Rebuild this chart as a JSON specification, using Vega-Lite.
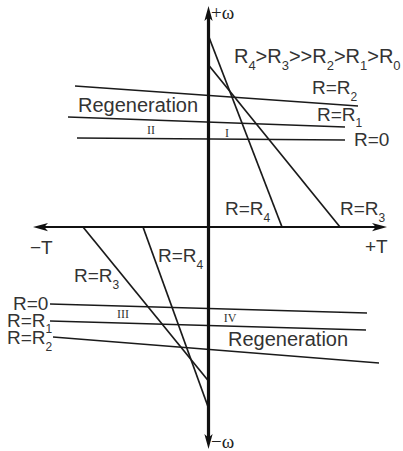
{
  "$schema": "https://vega.github.io/schema/vega-lite/v6.json",
  "width": 403,
  "height": 451,
  "padding": 0,
  "autosize": {"type": "none"},
  "background": "white",
  "config": {"view": {"stroke": null}},
  "datasets": {
    "characteristics": [
      {"curve": "R=R2 (I/II)", "x": -133.5, "y": 141, "x2": 149.5, "y2": 121},
      {"curve": "R=R1 (I/II)", "x": -140.5, "y": 110, "x2": 136.5, "y2": 100},
      {"curve": "R=0 (I/II)", "x": -131.5, "y": 89, "x2": 136.5, "y2": 87},
      {"curve": "R=R4 (I)", "x": 0, "y": 191, "x2": 73.5, "y2": 0},
      {"curve": "R=R3 (I)", "x": 0, "y": 162, "x2": 131.5, "y2": 0},
      {"curve": "R=R3 (III)", "x": -125.5, "y": 0, "x2": 0, "y2": -154},
      {"curve": "R=R4 (III)", "x": -65.5, "y": 0, "x2": 0, "y2": -181},
      {"curve": "R=0 (III/IV)", "x": -158.5, "y": -77, "x2": 158.5, "y2": -86},
      {"curve": "R=R1 (III/IV)", "x": -158.5, "y": -94, "x2": 157.5, "y2": -103},
      {"curve": "R=R2 (III/IV)", "x": -155.5, "y": -110, "x2": 170.5, "y2": -136}
    ],
    "axes": [
      {"axis": "T", "x": -167.5, "y": 0, "x2": 170.5, "y2": 0},
      {"axis": "omega", "x": 0, "y": 213, "x2": 0, "y2": -214}
    ],
    "arrowheads": [
      {"end": "+ω", "x": 0, "y": 221},
      {"end": "+T", "x": 178.5, "y": 0},
      {"end": "−ω", "x": 0, "y": -222},
      {"end": "−T", "x": -175.5, "y": 0}
    ],
    "labels": [
      {"kind": "head", "text": "R", "x": 25.5, "y": 164},
      {"kind": "headsub", "text": "4", "x": 39.9, "y": 157},
      {"kind": "head", "text": ">R", "x": 47.1, "y": 164},
      {"kind": "headsub", "text": "3", "x": 73.2, "y": 157},
      {"kind": "head", "text": ">>R", "x": 80.4, "y": 164},
      {"kind": "headsub", "text": "2", "x": 118.2, "y": 157},
      {"kind": "head", "text": ">R", "x": 125.4, "y": 164},
      {"kind": "headsub", "text": "1", "x": 151.5, "y": 157},
      {"kind": "head", "text": ">R", "x": 158.7, "y": 164},
      {"kind": "headsub", "text": "0", "x": 184.8, "y": 157},
      {"kind": "lbl", "text": "R=R", "x": 103.5, "y": 133},
      {"kind": "sub", "text": "2", "x": 142, "y": 126},
      {"kind": "lbl", "text": "R=R", "x": 108.5, "y": 106},
      {"kind": "sub", "text": "1", "x": 147, "y": 100},
      {"kind": "lbl", "text": "R=0", "x": 145.5, "y": 81},
      {"kind": "lbl", "text": "R=R", "x": 16.5, "y": 12},
      {"kind": "sub", "text": "4", "x": 55, "y": 5},
      {"kind": "lbl", "text": "R=R", "x": 131.5, "y": 12},
      {"kind": "sub", "text": "3", "x": 170, "y": 5},
      {"kind": "lbl", "text": "+T", "x": 156.5, "y": -26},
      {"kind": "lbl", "text": "−T", "x": -178.5, "y": -27},
      {"kind": "lbl", "text": "R=R", "x": -50.5, "y": -35},
      {"kind": "sub", "text": "4", "x": -12, "y": -42},
      {"kind": "lbl", "text": "R=R", "x": -134.5, "y": -55},
      {"kind": "sub", "text": "3", "x": -96, "y": -62},
      {"kind": "lbl", "text": "R=0", "x": -195.5, "y": -83},
      {"kind": "lbl", "text": "R=R", "x": -201.5, "y": -100},
      {"kind": "sub", "text": "1", "x": -163, "y": -106},
      {"kind": "lbl", "text": "R=R", "x": -201.5, "y": -117},
      {"kind": "sub", "text": "2", "x": -163, "y": -124},
      {"kind": "regen", "text": "Regeneration", "x": -130.5, "y": 115},
      {"kind": "regen", "text": "Regeneration", "x": 19.5, "y": -119},
      {"kind": "quad", "text": "I", "x": 18.5, "y": 90},
      {"kind": "quad", "text": "II", "x": -57.5, "y": 93},
      {"kind": "quad", "text": "III", "x": -85.5, "y": -91},
      {"kind": "quad", "text": "IV", "x": 21.5, "y": -95},
      {"kind": "pole", "text": "+ω", "x": 2.5, "y": 208},
      {"kind": "pole", "text": "−ω", "x": 2.5, "y": -221}
    ]
  },
  "encoding": {
    "x": {"field": "x", "type": "quantitative", "axis": null,
          "scale": {"domain": [-208.5, 194.5], "nice": false, "zero": false}},
    "y": {"field": "y", "type": "quantitative", "axis": null,
          "scale": {"domain": [-224, 227], "nice": false, "zero": false}}
  },
  "layer": [
    {
      "data": {"name": "characteristics"},
      "mark": {"type": "rule", "stroke": "#1a1a1a", "strokeWidth": 1.7},
      "encoding": {"x2": {"field": "x2"}, "y2": {"field": "y2"}}
    },
    {
      "data": {"name": "axes"},
      "transform": [{"filter": "datum.axis === 'T'"}],
      "mark": {"type": "rule", "stroke": "#111111", "strokeWidth": 2.2, "strokeCap": "butt"},
      "encoding": {"x2": {"field": "x2"}, "y2": {"field": "y2"}}
    },
    {
      "data": {"name": "axes"},
      "transform": [{"filter": "datum.axis === 'omega'"}],
      "mark": {"type": "rule", "stroke": "#111111", "strokeWidth": 3.2, "strokeCap": "butt"},
      "encoding": {"x2": {"field": "x2"}, "y2": {"field": "y2"}}
    },
    {
      "data": {"name": "arrowheads"},
      "transform": [{"filter": "datum.end === '+ω'"}],
      "mark": {"type": "point", "shape": "M0,0 L-0.55,2 L0,1.5 L0.55,2 Z", "filled": true,
               "fill": "#111111", "strokeWidth": 0, "size": 225, "opacity": 1, "angle": 0}
    },
    {
      "data": {"name": "arrowheads"},
      "transform": [{"filter": "datum.end === '+T'"}],
      "mark": {"type": "point", "shape": "M0,0 L-0.55,2 L0,1.5 L0.55,2 Z", "filled": true,
               "fill": "#111111", "strokeWidth": 0, "size": 225, "opacity": 1, "angle": 90}
    },
    {
      "data": {"name": "arrowheads"},
      "transform": [{"filter": "datum.end === '−ω'"}],
      "mark": {"type": "point", "shape": "M0,0 L-0.55,2 L0,1.5 L0.55,2 Z", "filled": true,
               "fill": "#111111", "strokeWidth": 0, "size": 225, "opacity": 1, "angle": 180}
    },
    {
      "data": {"name": "arrowheads"},
      "transform": [{"filter": "datum.end === '−T'"}],
      "mark": {"type": "point", "shape": "M0,0 L-0.55,2 L0,1.5 L0.55,2 Z", "filled": true,
               "fill": "#111111", "strokeWidth": 0, "size": 225, "opacity": 1, "angle": 270}
    },
    {
      "data": {"name": "labels"},
      "transform": [{"filter": "datum.kind === 'head'"}],
      "mark": {"type": "text", "align": "left", "baseline": "alphabetic",
               "font": "Liberation Sans", "fontSize": 20, "fill": "#333333"},
      "encoding": {"text": {"field": "text"}}
    },
    {
      "data": {"name": "labels"},
      "transform": [{"filter": "datum.kind === 'headsub'"}],
      "mark": {"type": "text", "align": "left", "baseline": "alphabetic",
               "font": "Liberation Sans", "fontSize": 13, "fill": "#333333"},
      "encoding": {"text": {"field": "text"}}
    },
    {
      "data": {"name": "labels"},
      "transform": [{"filter": "datum.kind === 'lbl'"}],
      "mark": {"type": "text", "align": "left", "baseline": "alphabetic",
               "font": "Liberation Sans", "fontSize": 19, "fill": "#333333"},
      "encoding": {"text": {"field": "text"}}
    },
    {
      "data": {"name": "labels"},
      "transform": [{"filter": "datum.kind === 'sub'"}],
      "mark": {"type": "text", "align": "left", "baseline": "alphabetic",
               "font": "Liberation Sans", "fontSize": 12, "fill": "#333333"},
      "encoding": {"text": {"field": "text"}}
    },
    {
      "data": {"name": "labels"},
      "transform": [{"filter": "datum.kind === 'regen'"}],
      "mark": {"type": "text", "align": "left", "baseline": "alphabetic",
               "font": "Liberation Sans", "fontSize": 20, "fill": "#333333"},
      "encoding": {"text": {"field": "text"}}
    },
    {
      "data": {"name": "labels"},
      "transform": [{"filter": "datum.kind === 'quad'"}],
      "mark": {"type": "text", "align": "center", "baseline": "alphabetic",
               "font": "Liberation Serif", "fontSize": 12, "fill": "#333333"},
      "encoding": {"text": {"field": "text"}}
    },
    {
      "data": {"name": "labels"},
      "transform": [{"filter": "datum.kind === 'pole'"}],
      "mark": {"type": "text", "align": "left", "baseline": "alphabetic",
               "font": "Liberation Serif", "fontSize": 19, "fill": "#222222"},
      "encoding": {"text": {"field": "text"}}
    }
  ]
}
